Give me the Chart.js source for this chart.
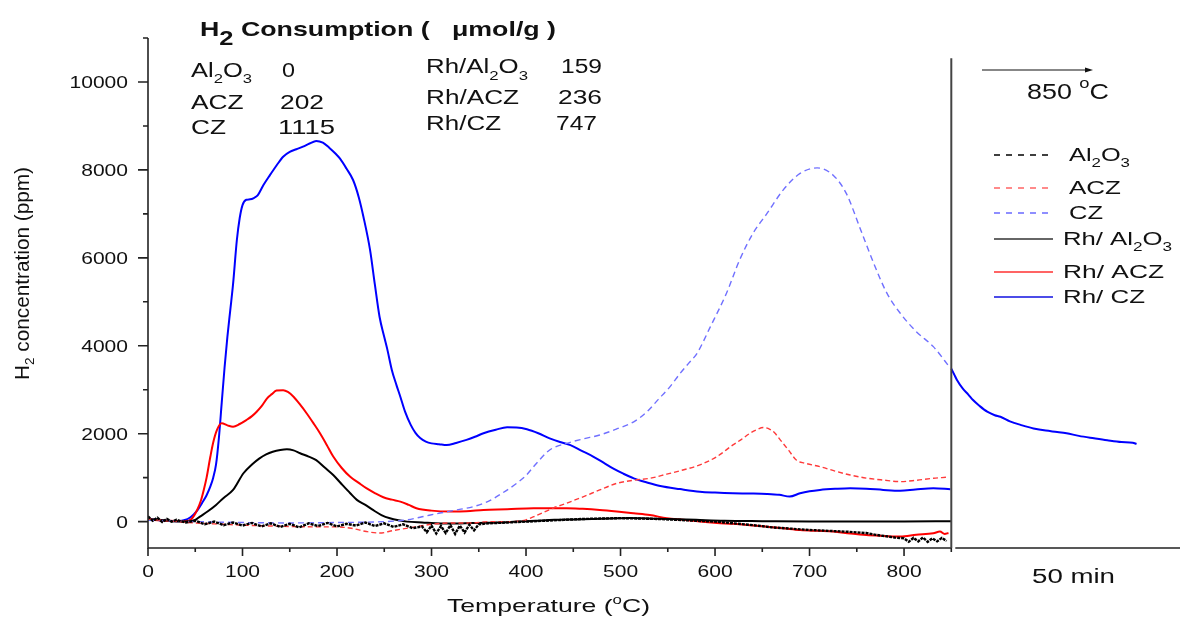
<!DOCTYPE html>
<html lang="en">
<head>
<meta charset="UTF-8" />
<title>H2-TPR</title>
<script src="https://cdn.jsdelivr.net/npm/chart.js"></script>
<style>
  html, body { margin: 0; padding: 0; background: #fff; }
  #wrap { width: 1183px; height: 617px; position: relative; }
</style>
</head>
<body>
<div id="wrap"><canvas id="tpr"></canvas></div>
<script>
// ---- data (temperature in °C, H2 in ppm) ----
const al2o3T = [0,5,10,15,20,25,30,40,50,60,70,80,90,100,110,120,130,140,150,160,170,180,190,200,210,220,230,240,250,260,270,280,290,295,300,305,310,315,320,325,330,335,340,345,350,360,380,400,420,440,460,480,500,520,540,560,580,600,620,640,660,680,700,720,740,760,770,780,790,800,805,810,815,820,825,830,835,840,845];
const al2o3H = [120,20,90,-10,60,0,40,-20,20,-60,0,-80,-20,-90,-30,-110,-40,-120,-50,-130,-40,-100,-30,-110,-50,-90,-20,-100,-40,-120,-60,-150,-110,-240,-90,-270,-100,-260,-80,-280,-90,-250,-70,-200,-60,-40,-20,0,20,40,60,70,80,70,60,40,20,0,-40,-80,-130,-160,-190,-210,-230,-260,-300,-330,-360,-380,-460,-370,-450,-360,-460,-380,-450,-370,-440];

const aczT = [0,20,50,80,100,130,150,180,200,215,231,245,260,280,300,320,344,360,380,400,412,429,443,461,478,496,514,531,549,566,584,602,619,628,637,644,651,658,663,669,678,686,695,711,727,743,760,778,796,813,831,845];
const aczH = [60,20,-30,-60,-80,-100,-110,-120,-120,-150,-225,-260,-200,-130,-60,-30,-30,0,0,40,150,310,420,570,720,870,940,985,1080,1175,1290,1480,1745,1870,2010,2090,2140,2100,2020,1860,1620,1400,1330,1250,1150,1060,990,945,910,940,985,1010];

const czT = [0,50,100,150,200,250,274,290,309,325,344,360,375,390,400,410,425,443,460,478,495,514,528,540,552,563,572,581,595,612,626,640,655,672,690,708,725,739,753,768,782,796,813,831,849];
const czH = [30,0,-20,-30,-20,0,40,110,195,260,340,460,650,870,1050,1300,1630,1780,1880,1970,2100,2270,2500,2780,3060,3370,3600,3830,4430,5190,5950,6550,7010,7540,7920,8045,7880,7460,6700,5870,5190,4740,4320,3980,3490];

const rhAlT = [0,20,40,50,55,63,72,80,90,101,110,118,125,132,140,147,154,161,170,178,187,196,205,214,221,230,238,247,256,265,274,290,310,330,350,370,390,410,430,450,470,490,510,530,550,580,610,650,700,750,800,850];
const rhAlH = [60,20,0,40,115,230,380,540,720,1100,1300,1440,1530,1590,1630,1645,1620,1555,1480,1400,1230,1060,850,645,495,380,265,150,75,30,0,-20,-40,-40,-30,-20,0,20,40,50,60,70,80,70,60,40,20,10,0,0,0,10];

const rhAczT = [0,20,40,46,52,56,59,62,66,69,73,78,84,90,97,104,110,115,120,126,131,136,143,148,154,161,168,175,182,189,196,205,214,223,231,240,249,258,267,276,284,300,320,337,355,380,408,425,443,460,478,496,514,531,549,566,584,602,619,637,655,672,690,708,725,743,760,778,796,813,831,838,843,847];
const rhAczH = [50,20,10,60,265,480,720,1000,1480,1800,2085,2235,2190,2160,2220,2310,2400,2500,2620,2805,2900,2980,2990,2950,2840,2660,2460,2240,2010,1750,1480,1220,1020,880,760,650,555,500,455,380,305,250,230,235,265,280,305,305,305,290,265,230,190,150,75,40,0,-30,-50,-80,-115,-150,-190,-210,-225,-270,-305,-325,-340,-300,-265,-225,-280,-260];

const rhCzT = [0,10,20,30,38,45,52,58,62,66,69,72,75,78,81,84,87,90,94,97,100,104,108,112,116,122,129,136,143,150,157,164,171,178,185,192,198,203,210,217,223,228,235,240,245,250,253,258,263,267,272,278,283,288,294,300,308,316,326,337,346,355,368,380,390,401,413,425,436,447,459,471,482,492,503,514,528,542,563,584,600,619,637,655,668,679,690,700,711,727,743,760,778,796,812,831,849];
const rhCzH = [60,40,20,10,30,100,250,450,600,800,1000,1300,1900,2700,3500,4200,4800,5400,6400,6900,7200,7320,7330,7360,7420,7650,7880,8100,8300,8410,8470,8530,8600,8660,8620,8500,8380,8260,8030,7770,7380,6930,6175,5400,4660,4200,3940,3450,3100,2840,2500,2200,2020,1900,1820,1780,1760,1740,1790,1860,1930,2010,2090,2145,2140,2100,2010,1895,1810,1740,1610,1480,1340,1210,1090,985,890,810,740,680,660,645,640,630,610,570,645,690,720,745,760,750,720,700,730,760,735];

// isothermal hold at 850 °C (50 min), plotted on the same axis after the ramp
const holdT = [850,853,856,862,868,873,880,888,896,902,912,925,937,950,962,972,985,1001,1015,1030,1042,1046];
const holdH = [3480,3350,3220,3030,2890,2765,2630,2500,2420,2385,2280,2190,2120,2070,2040,2010,1950,1895,1850,1810,1795,1765];

const xMin = 0, xMax = 1092, splitT = 850;
const yMin = -600, yMax = 11000;
const xMajor = [0,100,200,300,400,500,600,700,800];
const xMinor = [50,150,250,350,450,550,650,750,850];
const yMajor = [0,2000,4000,6000,8000,10000];
const yMinor = [1000,3000,5000,7000,9000,11000];

const legendNames = ['Al2O3','ACZ','CZ','Rh/ Al2O3','Rh/ ACZ','Rh/ CZ'];
const consumptionNames = ['Al2O3','ACZ','CZ','Rh/Al2O3','Rh/ACZ','Rh/CZ'];
const consumptionVals = ['0','202','1115','159','236','747'];

function pts(t, h) { return t.map((v, i) => ({ x: v, y: h[i] })); }

const FONT = '"Liberation Sans", Arial, sans-serif';

// draw a run of text pieces (normal / sub / superscript), stretched to a width
function run(ctx, parts, x, y, target) {
  let natural = 0;
  parts.forEach(p => {
    ctx.font = (p[3] ? 'bold ' : '') + p[1] + 'px ' + FONT;
    natural += ctx.measureText(p[0]).width;
  });
  const s = target ? target / natural : 1;
  ctx.save();
  ctx.translate(x, y);
  ctx.scale(s, 1);
  let cx = 0;
  parts.forEach(p => {
    ctx.font = (p[3] ? 'bold ' : '') + p[1] + 'px ' + FONT;
    ctx.fillText(p[0], cx, p[2] || 0);
    cx += ctx.measureText(p[0]).width;
  });
  ctx.restore();
}

// "Al2O3" style name -> pieces with subscripts
function chem(name, size, sub, dy) {
  const out = [];
  name.split(/(\d)/).forEach(s => {
    if (!s) return;
    if (/\d/.test(s)) out.push([s, sub, dy]);
    else out.push([s, size, 0]);
  });
  return out;
}

const decor = {
  id: 'decor',
  afterDraw(chart) {
    const ctx = chart.ctx;
    const xs = chart.scales.x, ys = chart.scales.y;
    const X = v => xs.getPixelForValue(v), Y = v => ys.getPixelForValue(v);
    const bottom = Y(yMin), left = X(xMin);
    ctx.save();
    ctx.fillStyle = '#111';
    ctx.strokeStyle = '#222';
    ctx.lineWidth = 1.6;

    // axes
    ctx.beginPath();
    ctx.moveTo(left, Y(yMax)); ctx.lineTo(left, bottom);
    ctx.lineTo(X(splitT), bottom);
    ctx.moveTo(X(splitT) + 4, bottom); ctx.lineTo(X(xMax), bottom);
    ctx.stroke();

    // ticks
    ctx.beginPath();
    xMajor.forEach(v => { ctx.moveTo(X(v), bottom); ctx.lineTo(X(v), bottom + 8); });
    xMinor.forEach(v => { ctx.moveTo(X(v), bottom); ctx.lineTo(X(v), bottom + 4); });
    yMajor.forEach(v => { ctx.moveTo(left, Y(v)); ctx.lineTo(left - 10, Y(v)); });
    yMinor.forEach(v => { ctx.moveTo(left, Y(v)); ctx.lineTo(left - 5, Y(v)); });
    ctx.stroke();

    // tick labels
    ctx.textBaseline = 'alphabetic';
    xMajor.forEach(v => {
      const s = String(v);
      const w = 11.7 * s.length;
      run(ctx, [[s, 17, 0]], X(v) - w / 2, bottom + 29, w);
    });
    yMajor.forEach(v => {
      const s = String(v);
      const w = 11.7 * s.length;
      run(ctx, [[s, 17, 0]], left - 20 - w, Y(v) + 6, w);
    });

    // divider between ramp and isothermal hold
    ctx.strokeStyle = '#444';
    ctx.lineWidth = 2;
    ctx.beginPath();
    ctx.moveTo(X(splitT), Y(10540)); ctx.lineTo(X(splitT), bottom);
    ctx.stroke();

    // arrow + 850 °C
    ctx.strokeStyle = '#111';
    ctx.lineWidth = 1.2;
    ctx.beginPath();
    ctx.moveTo(982, 70); ctx.lineTo(1090, 70);
    ctx.stroke();
    ctx.beginPath();
    ctx.moveTo(1093, 70); ctx.lineTo(1085, 67.5); ctx.lineTo(1085, 72.5); ctx.closePath();
    ctx.fill();
    run(ctx, [['850 ', 22, 0], ['o', 15, -11], ['C', 22, 0]], 1027, 99, 82);
    run(ctx, [['50 min', 20, 0]], 1032, 583, 83);

    // axis titles
    run(ctx, [['Temperature (', 19, 0], ['o', 12, -8], ['C)', 19, 0]], 447, 612, 203);
    ctx.save();
    ctx.translate(29, 380);
    ctx.rotate(-Math.PI / 2);
    run(ctx, [['H', 20, 0], ['2', 13, 5], [' concentration (ppm)', 20, 0]], 0, 0, 213);
    ctx.restore();

    // consumption table
    run(ctx, [['H', 21, 0, 1], ['2', 20, 9, 1], [' Consumption (   \u03bcmol/g )', 21, 0, 1]], 200, 36, 356);
    const rowsL = [[77, 61, 282, 13], [109, 52.6, 280, 44], [134, 35, 278, 57]];
    const rowsR = [[73, 102, 561, 41], [104, 93, 558, 44], [130, 75, 556, 41]];
    rowsL.forEach((r, i) => {
      run(ctx, chem(consumptionNames[i], 20, 13, 6), 191, r[0], r[1]);
      run(ctx, [[consumptionVals[i], 20, 0]], r[2], r[0], r[3]);
    });
    rowsR.forEach((r, i) => {
      run(ctx, chem(consumptionNames[i + 3], 20, 13, 7), 426, r[0], r[1]);
      run(ctx, [[consumptionVals[i + 3], 20, 0]], r[2], r[0], r[3]);
    });

    // legend
    const legY = [155, 188, 213, 239, 272, 297];
    const legX = [1069, 1069, 1069, 1063, 1063, 1063];
    const legW = [61, 52, 34, 109, 101, 82];
    chart.data.datasets.slice(0, 6).forEach((ds, i) => {
      ctx.strokeStyle = ds.legendColor;
      ctx.lineWidth = 1.6;
      ctx.setLineDash(i < 3 ? [6, 6] : []);
      ctx.beginPath();
      ctx.moveTo(994, legY[i]); ctx.lineTo(1053, legY[i]);
      ctx.stroke();
      ctx.setLineDash([]);
      run(ctx, chem(legendNames[i], 18, 12, 6), legX[i], legY[i] + 6, legW[i]);
    });
    ctx.restore();
  }
};

new Chart(document.getElementById('tpr'), {
  type: 'line',
  data: {
    datasets: [
      { label: 'Al2O3', data: pts(al2o3T, al2o3H), borderColor: '#000', legendColor: '#000', borderWidth: 2.4, borderDash: [3, 1], tension: 0 },
      { label: 'ACZ', data: pts(aczT, aczH), borderColor: '#ff3a3a', legendColor: '#ff6464', borderWidth: 1.4, borderDash: [5, 3], cubicInterpolationMode: 'monotone' },
      { label: 'CZ', data: pts(czT, czH), borderColor: '#7070ff', legendColor: '#6a6aff', borderWidth: 1.4, borderDash: [6, 4], cubicInterpolationMode: 'monotone' },
      { label: 'Rh/ Al2O3', data: pts(rhAlT, rhAlH), borderColor: '#000', legendColor: '#333', borderWidth: 2, cubicInterpolationMode: 'monotone' },
      { label: 'Rh/ ACZ', data: pts(rhAczT, rhAczH), borderColor: '#ff0000', legendColor: '#ff3030', borderWidth: 2, cubicInterpolationMode: 'monotone' },
      { label: 'Rh/ CZ', data: pts(rhCzT, rhCzH), borderColor: '#0000ff', legendColor: '#1010e0', borderWidth: 2, cubicInterpolationMode: 'monotone' },
      { label: 'hold', data: pts(holdT, holdH), borderColor: '#0000ff', borderWidth: 2, cubicInterpolationMode: 'monotone' }
    ]
  },
  options: {
    responsive: true,
    maintainAspectRatio: false,
    animation: false,
    layout: { padding: { left: 148, right: 3, top: 38, bottom: 69 } },
    elements: { point: { radius: 0 } },
    scales: {
      x: { type: 'linear', min: xMin, max: xMax, display: false },
      y: { type: 'linear', min: yMin, max: yMax, display: false }
    },
    plugins: { legend: { display: false }, tooltip: { enabled: false } }
  },
  plugins: [decor]
});
</script>
</body>
</html>
